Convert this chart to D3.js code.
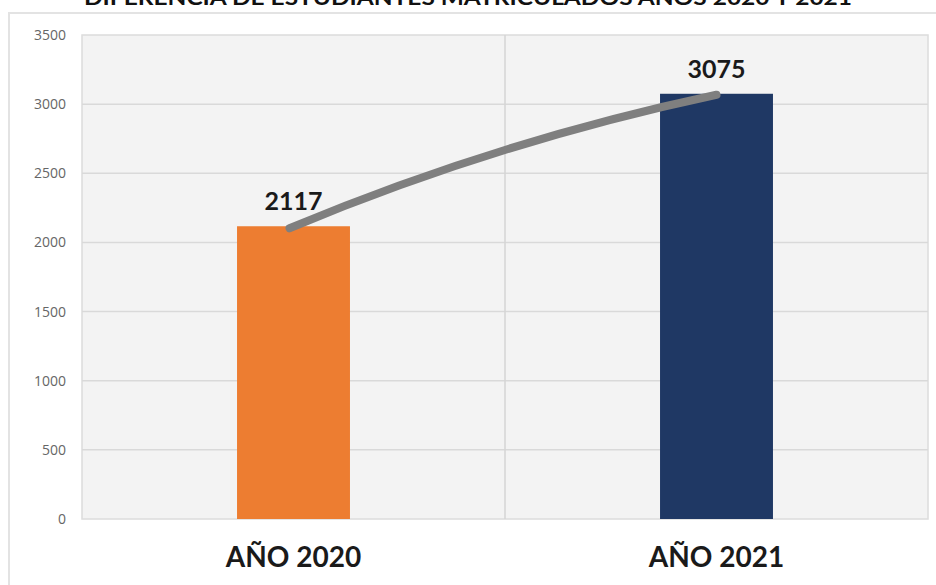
<!DOCTYPE html>
<html>
<head>
<meta charset="utf-8">
<script src="https://cdn.jsdelivr.net/npm/d3@7"></script>
<style>
  body { margin: 0; background: #fff; }
  text { font-family: Lato, "Open Sans", sans-serif; }
</style>
</head>
<body>
<script>
const categories = ['AÑO 2020', 'AÑO 2021']
const values = [2117, 3075]
const barColors = ['#ed7d31', '#1f3864']
const yTicks = [0, 500, 1000, 1500, 2000, 2500, 3000, 3500]
const title = 'DIFERENCIA DE ESTUDIANTES MATRICULADOS AÑOS 2020 Y 2021'

const W = 936, H = 585
const plot = {left: 82, right: 928, top: 35, bottom: 519}

const svg = d3.select('body').append('svg')
    .attr('width', W)
    .attr('height', H)

// outer chart frame
svg.append('rect')
    .attr('x', 9).attr('y', 13)
    .attr('width', 960).attr('height', 600)
    .attr('fill', '#fff')
    .attr('stroke', '#e3e3e3')
    .attr('stroke-width', 2)

// title, cropped at the top like the source image
svg.append('text')
    .attr('x', 468).attr('y', 5)
    .attr('text-anchor', 'middle')
    .attr('font-size', 21)
    .attr('font-weight', 'bold')
    .attr('textLength', 768)
    .attr('lengthAdjust', 'spacingAndGlyphs')
    .attr('fill', '#111')
    .text(title)

const x = d3.scaleBand()
    .domain(categories)
    .range([plot.left, plot.right])
    .paddingInner(0)

const y = d3.scaleLinear()
    .domain([0, 3500])
    .range([plot.bottom, plot.top])

// plot background
svg.append('rect')
    .attr('x', plot.left).attr('y', plot.top)
    .attr('width', plot.right - plot.left)
    .attr('height', plot.bottom - plot.top)
    .attr('fill', '#f3f3f3')
    .attr('stroke', '#dcdcdc')
    .attr('stroke-width', 1.5)

// horizontal gridlines
svg.append('g')
    .selectAll('line')
    .data(yTicks.slice(1, -1))
    .join('line')
    .attr('x1', plot.left).attr('x2', plot.right)
    .attr('y1', d => y(d)).attr('y2', d => y(d))
    .attr('stroke', '#d9d9d9')
    .attr('stroke-width', 1.5)

// vertical divider between categories
svg.append('line')
    .attr('x1', x(categories[1])).attr('x2', x(categories[1]))
    .attr('y1', plot.top).attr('y2', plot.bottom)
    .attr('stroke', '#d4d4d4')
    .attr('stroke-width', 1.5)

// y axis labels
const yAxis = svg.append('g')
    .attr('transform', `translate(${plot.left - 16},0)`)
    .call(d3.axisLeft(y).tickValues(yTicks).tickFormat(d3.format('d')).tickSize(0).tickPadding(0))
yAxis.select('.domain').remove()
yAxis.selectAll('text')
    .attr('fill', '#666')
    .attr('font-size', 14)
    .style('font-family', '"Open Sans", sans-serif')

// bars
const barW = x.bandwidth() * 0.267
svg.append('g')
    .selectAll('rect')
    .data(values)
    .join('rect')
    .attr('x', (d, i) => x(categories[i]) + x.bandwidth() / 2 - barW / 2)
    .attr('y', d => y(d))
    .attr('width', barW)
    .attr('height', d => y(0) - y(d))
    .attr('fill', (d, i) => barColors[i])

// curved connector between bar tops
const p0 = [x(categories[0]) + x.bandwidth() / 2 - 4, y(values[0]) + 2]
const p1 = [x(categories[1]) + x.bandwidth() / 2, y(values[1]) + 1]
const mx = (p0[0] + p1[0]) / 2, my = (p0[1] + p1[1]) / 2
const path = d3.path()
path.moveTo(p0[0], p0[1])
path.quadraticCurveTo(mx - 6, my - 20, p1[0], p1[1])
svg.append('path')
    .attr('d', path.toString())
    .attr('fill', 'none')
    .attr('stroke', '#7f7f7f')
    .attr('stroke-width', 8)
    .attr('stroke-linecap', 'round')

// value labels
svg.append('g')
    .selectAll('text')
    .data(values)
    .join('text')
    .attr('x', (d, i) => x(categories[i]) + x.bandwidth() / 2)
    .attr('y', d => y(d) - 16)
    .attr('text-anchor', 'middle')
    .attr('font-size', 25)
    .attr('font-weight', 'bold')
    .attr('fill', '#1a1a1a')
    .text(d => d)

// category labels
svg.append('g')
    .selectAll('text')
    .data(categories)
    .join('text')
    .attr('x', d => x(d) + x.bandwidth() / 2)
    .attr('y', 567)
    .attr('text-anchor', 'middle')
    .attr('font-size', 28)
    .attr('font-weight', 'bold')
    .attr('fill', '#1a1a1a')
    .text(d => d)
</script>
</body>
</html>
